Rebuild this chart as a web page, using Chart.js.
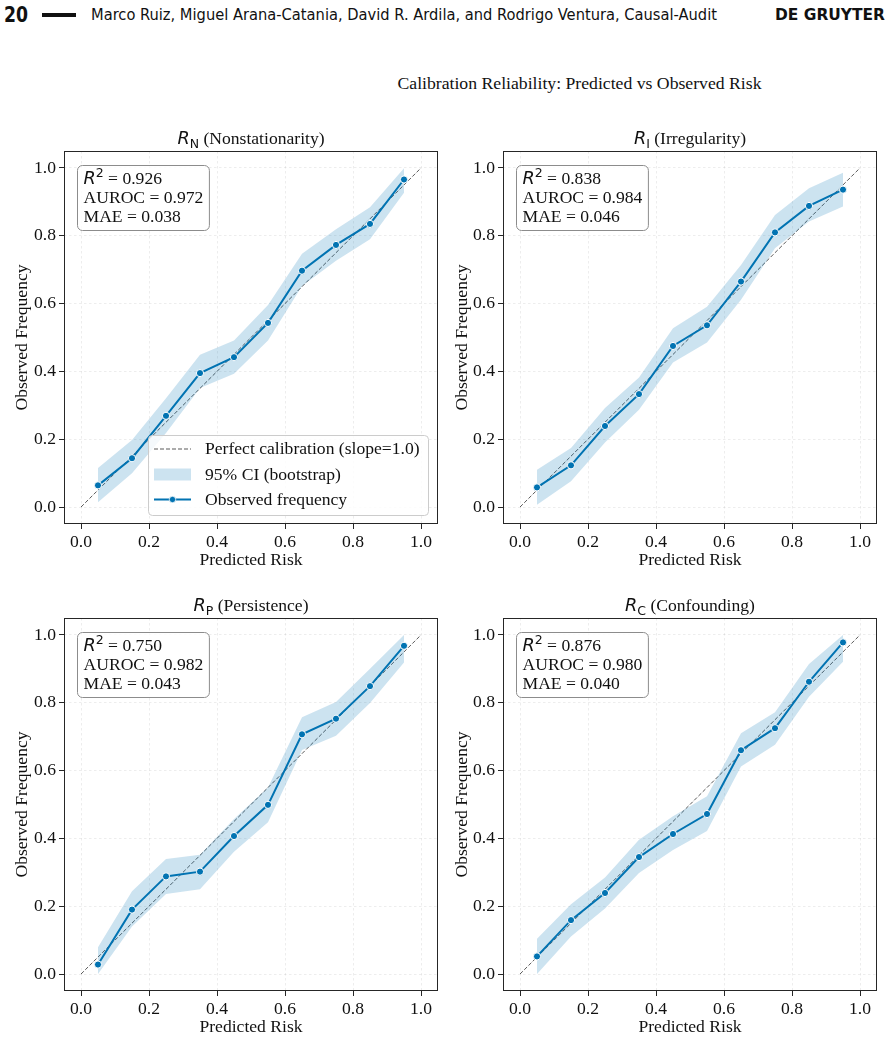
<!DOCTYPE html>
<html><head><meta charset="utf-8">
<script src="https://cdn.jsdelivr.net/npm/chart.js@4.4.0/dist/chart.umd.min.js"></script>
<style>
html,body{margin:0;padding:0;width:891px;height:1039px;overflow:hidden;background:#fff;}
.h{position:absolute;top:0;line-height:30px;white-space:nowrap;color:#111;font-family:"DejaVu Sans Condensed","DejaVu Sans",sans-serif;font-stretch:condensed;transform-origin:0 50%;}
#bar{position:absolute;left:42px;top:13px;width:34px;height:4px;background:#111;}
#sup{position:absolute;left:0;width:1159px;top:72px;line-height:22px;text-align:center;font-family:"Liberation Serif","Times New Roman",serif;font-size:17.7px;color:#111;}
canvas{position:absolute;}
</style></head>
<body>
<div class="h" id="pg" style="left:4px;font-weight:bold;font-size:21px;" data-w="24">20</div>
<div id="bar"></div>
<div class="h" id="au" style="left:91px;font-size:15px;" data-w="626">Marco Ruiz, Miguel Arana-Catania, David R. Ardila, and Rodrigo Ventura, Causal-Audit</div>
<div class="h" id="dg" style="left:775px;font-weight:bold;font-size:15.5px;" data-w="110">DE GRUYTER</div>
<div id="sup">Calibration Reliability: Predicted vs Observed Risk</div>
<canvas id="c0" width="445" height="460" style="left:0;top:120px"></canvas>
<canvas id="c1" width="451" height="460" style="left:440px;top:120px"></canvas>
<canvas id="c2" width="445" height="460" style="left:0;top:587px"></canvas>
<canvas id="c3" width="451" height="460" style="left:440px;top:587px"></canvas>
<script>
// ---------------- DATA ----------------
const predictedRisk = [0.05, 0.15, 0.25, 0.35, 0.45, 0.55, 0.65, 0.75, 0.85, 0.95];

const obsNonstationarity  = [0.064, 0.144, 0.269, 0.395, 0.442, 0.543, 0.697, 0.773, 0.835, 0.966];
const ciLowNonstationarity  = [0.014, 0.100, 0.218, 0.351, 0.393, 0.491, 0.652, 0.726, 0.790, 0.927];
const ciHighNonstationarity = [0.115, 0.198, 0.321, 0.449, 0.491, 0.596, 0.747, 0.819, 0.884, 0.999];

const obsIrregularity  = [0.058, 0.123, 0.239, 0.333, 0.475, 0.536, 0.665, 0.810, 0.888, 0.936];
const ciLowIrregularity  = [0.007, 0.076, 0.190, 0.287, 0.426, 0.485, 0.611, 0.763, 0.842, 0.886];
const ciHighIrregularity = [0.110, 0.174, 0.292, 0.382, 0.527, 0.591, 0.714, 0.861, 0.940, 0.986];

const obsPersistence  = [0.028, 0.190, 0.288, 0.302, 0.407, 0.499, 0.707, 0.753, 0.849, 0.968];
const ciLowPersistence  = [0.000, 0.140, 0.236, 0.250, 0.361, 0.448, 0.661, 0.703, 0.799, 0.919];
const ciHighPersistence = [0.079, 0.244, 0.339, 0.352, 0.457, 0.550, 0.757, 0.802, 0.900, 1.000];

const obsConfounding  = [0.052, 0.159, 0.239, 0.345, 0.413, 0.472, 0.660, 0.725, 0.862, 0.978];
const ciLowConfounding  = [0.000, 0.111, 0.193, 0.298, 0.366, 0.422, 0.612, 0.676, 0.818, 0.921];
const ciHighConfounding = [0.104, 0.206, 0.285, 0.396, 0.465, 0.524, 0.710, 0.772, 0.914, 1.000];

const diagonalX = [0, 1];
const diagonalY = [0, 1];

const panelSubscripts = ['N', 'I', 'P', 'C'];
const panelNames = ['Nonstationarity', 'Irregularity', 'Persistence', 'Confounding'];
const r2Values    = ['0.926', '0.838', '0.750', '0.876'];
const aurocValues = ['0.972', '0.984', '0.982', '0.980'];
const maeValues   = ['0.038', '0.046', '0.043', '0.040'];

const tickValues = [0, 0.2, 0.4, 0.6, 0.8, 1.0];
const tickLabels = ['0.0', '0.2', '0.4', '0.6', '0.8', '1.0'];

const seriesLabels = ['Perfect calibration (slope=1.0)', '95% CI (bootstrap)', 'Observed frequency'];
const xAxisLabel = 'Predicted Risk';
const yAxisLabel = 'Observed Frequency';

const panelObs = [obsNonstationarity, obsIrregularity, obsPersistence, obsConfounding];
const panelLo  = [ciLowNonstationarity, ciLowIrregularity, ciLowPersistence, ciLowConfounding];
const panelHi  = [ciHighNonstationarity, ciHighIrregularity, ciHighPersistence, ciHighConfounding];

// ---------------- STYLE ----------------
const BLUE = '#0173b2';
const BAND = 'rgba(1,115,178,0.2)';
const DIAG = 'rgba(0,0,0,0.65)';
const SERIF = '"Liberation Serif","Times New Roman",serif';
const SANS = '"DejaVu Sans",sans-serif';
const FS = 17.6;

// header width fit
document.querySelectorAll('.h').forEach(el => {
  const w = el.getBoundingClientRect().width;
  const t = +el.dataset.w;
  if (w > 0) el.style.transform = 'scaleX(' + (t / w) + ')';
});

function drawRuns(ctx, runs, x, y) {
  for (const r of runs) {
    ctx.font = r.font;
    ctx.fillText(r.text, x, y + (r.dy || 0));
    x += ctx.measureText(r.text).width;
  }
  return x;
}
function runsWidth(ctx, runs) {
  let w = 0;
  for (const r of runs) { ctx.font = r.font; w += ctx.measureText(r.text).width; }
  return w;
}
function roundRect(ctx, x, y, w, h, r) {
  ctx.beginPath();
  ctx.moveTo(x + r, y);
  ctx.lineTo(x + w - r, y); ctx.arcTo(x + w, y, x + w, y + r, r);
  ctx.lineTo(x + w, y + h - r); ctx.arcTo(x + w, y + h, x + w - r, y + h, r);
  ctx.lineTo(x + r, y + h); ctx.arcTo(x, y + h, x, y + h - r, r);
  ctx.lineTo(x, y + r); ctx.arcTo(x, y, x + r, y, r);
  ctx.closePath();
}

const panelDeco = {
  id: 'panelDeco',
  afterDraw(chart, args, o) {
    const ctx = chart.ctx, a = chart.chartArea;
    const i = o.index;
    ctx.save();
    // frame
    ctx.strokeStyle = '#262626'; ctx.lineWidth = 1; ctx.setLineDash([]);
    ctx.strokeRect(a.left + 0.5, a.top + 0.5, a.right - a.left - 1, a.bottom - a.top - 1);
    // title
    ctx.fillStyle = '#111'; ctx.textBaseline = 'alphabetic';
    const tRuns = [
      {text: 'R', font: 'italic ' + FS + 'px ' + SANS},
      {text: panelSubscripts[i], font: '12.5px ' + SANS, dy: 3.5},
      {text: ' (' + panelNames[i] + ')', font: FS + 'px ' + SERIF}
    ];
    const tw = runsWidth(ctx, tRuns);
    drawRuns(ctx, tRuns, (a.left + a.right) / 2 - tw / 2, a.top - 7);
    // stats box
    const lines = [
      [{text: 'R', font: 'italic ' + FS + 'px ' + SANS}, {text: '2', font: '12.5px ' + SANS, dy: -7}, {text: ' = ' + r2Values[i], font: FS + 'px ' + SERIF}],
      [{text: 'AUROC = ' + aurocValues[i], font: FS + 'px ' + SERIF}],
      [{text: 'MAE = ' + maeValues[i], font: FS + 'px ' + SERIF}]
    ];
    const bw = Math.max(...lines.map(l => runsWidth(ctx, l))) + 12;
    const bx = a.left + 13.5, by = a.top + 14.5;
    roundRect(ctx, bx, by, bw, 65, 5);
    ctx.fillStyle = 'rgba(255,255,255,0.8)'; ctx.fill();
    ctx.strokeStyle = '#8c8c8c'; ctx.lineWidth = 1; ctx.stroke();
    ctx.fillStyle = '#111';
    lines.forEach((l, k) => drawRuns(ctx, l, bx + 6, by + 18.8 + k * 18.7));
    // legend (first panel only)
    if (o.legend) {
      const lw = 280, lh = 80;
      const lx = a.right - 10 - lw, ly = a.bottom - 9 - lh;
      roundRect(ctx, lx + 0.5, ly + 0.5, lw, lh, 4);
      ctx.fillStyle = 'rgba(255,255,255,0.8)'; ctx.fill();
      ctx.strokeStyle = '#cccccc'; ctx.stroke();
      const hx0 = lx + 6, hx1 = lx + 43, tx = lx + 57;
      const rows = [ly + 14, ly + 39.5, ly + 64.5];
      // dashed
      ctx.strokeStyle = DIAG; ctx.lineWidth = 1; ctx.setLineDash([4, 2]);
      ctx.beginPath(); ctx.moveTo(hx0, rows[0]); ctx.lineTo(hx1, rows[0]); ctx.stroke();
      ctx.setLineDash([]);
      // band
      ctx.fillStyle = BAND; ctx.fillRect(hx0, rows[1] - 6, hx1 - hx0, 12);
      // observed
      ctx.strokeStyle = BLUE; ctx.lineWidth = 2;
      ctx.beginPath(); ctx.moveTo(hx0, rows[2]); ctx.lineTo(hx1, rows[2]); ctx.stroke();
      ctx.beginPath(); ctx.arc((hx0 + hx1) / 2, rows[2], 3.2, 0, Math.PI * 2);
      ctx.fillStyle = BLUE; ctx.fill(); ctx.strokeStyle = '#fff'; ctx.lineWidth = 0.8; ctx.stroke();
      ctx.fillStyle = '#111'; ctx.font = FS + 'px ' + SERIF; ctx.textBaseline = 'middle';
      seriesLabels.forEach((s, k) => ctx.fillText(s, tx, rows[k] + 0.5));
    }
    ctx.restore();
  }
};

const areas = [
  {l: 64, t: 151, r: 438, b: 524},
  {l: 503, t: 151, r: 877, b: 524},
  {l: 64, t: 618, r: 438, b: 991},
  {l: 503, t: 618, r: 877, b: 991}
];
const canvasPos = [[0, 120], [440, 120], [0, 587], [440, 587]];

function pts(xs, ys) { return xs.map((x, k) => ({x, y: ys[k]})); }

function axisCommon(extra) {
  return Object.assign({
    type: 'linear', min: -0.05, max: 1.05,
    afterBuildTicks: s => { s.ticks = tickValues.map(v => ({value: v})); },
    ticks: {
      autoSkip: false, maxRotation: 0, color: '#111', padding: 3,
      font: {family: SERIF, size: FS},
      callback: v => { const k = tickValues.findIndex(t => Math.abs(t - v) < 1e-9); return k >= 0 ? tickLabels[k] : ''; }
    },
    grid: {color: 'rgba(0,0,0,0.09)', lineWidth: 0.8, tickColor: '#262626', tickLength: 5, tickWidth: 1, drawTicks: true},
    border: {display: false, dash: [2.5, 2.5]}
  }, extra);
}

for (let i = 0; i < 4; i++) {
  const cv = document.getElementById('c' + i);
  const a = areas[i], [cx, cy] = canvasPos[i];
  const cw = cv.width, ch = cv.height;
  new Chart(cv, {
    type: 'line',
    data: {datasets: [
      {label: seriesLabels[0], data: pts(diagonalX, diagonalY), borderColor: DIAG, borderWidth: 1, borderDash: [4, 2], pointRadius: 0, fill: false, order: 3},
      {label: 'ci-low', data: pts(predictedRisk, panelLo[i]), borderColor: 'rgba(0,0,0,0)', borderWidth: 0, pointRadius: 0, fill: false, order: 2},
      {label: seriesLabels[1], data: pts(predictedRisk, panelHi[i]), borderColor: 'rgba(0,0,0,0)', borderWidth: 0, pointRadius: 0, fill: '-1', backgroundColor: BAND, order: 2},
      {label: seriesLabels[2], data: pts(predictedRisk, panelObs[i]), borderColor: BLUE, borderWidth: 2, pointRadius: 3.6, pointBackgroundColor: BLUE, pointBorderColor: '#fff', pointBorderWidth: 1, fill: false, order: 0}
    ]},
    options: {
      responsive: false, animation: false, devicePixelRatio: 1,
      layout: {padding: {left: 0, top: a.t - cy, right: cw - (a.r - cx), bottom: 0}},
      plugins: {legend: {display: false}, tooltip: {enabled: false}, panelDeco: {index: i, legend: i === 0}},
      elements: {line: {tension: 0}},
      scales: {
        x: axisCommon({
          position: 'bottom',
          afterFit: s => { s.height = ch - (a.b - cy); },
          title: {display: true, text: xAxisLabel, color: '#111', font: {family: SERIF, size: FS}, padding: {top: 0, bottom: 9}}
        }),
        y: axisCommon({
          position: 'left',
          afterFit: s => { s.width = a.l - cx; },
          title: {display: true, text: yAxisLabel, color: '#111', font: {family: SERIF, size: FS}, padding: {top: 11.5, bottom: 0}}
        })
      }
    },
    plugins: [panelDeco]
  });
}
</script>
</body></html>
